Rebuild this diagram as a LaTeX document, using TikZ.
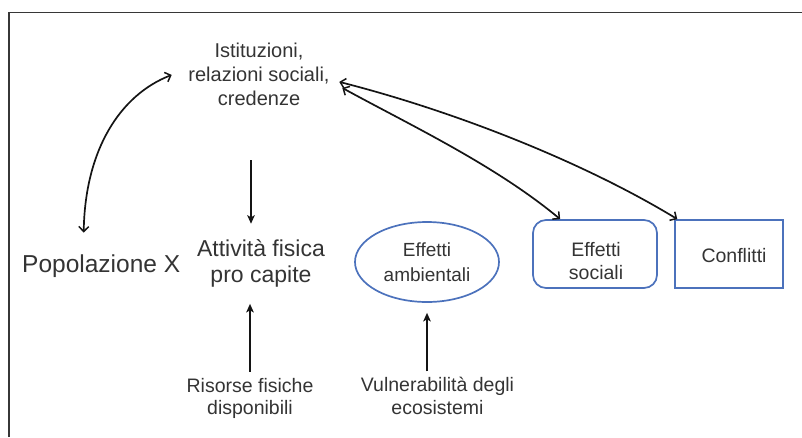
\documentclass[tikz,border=0pt]{standalone}
\usepackage{fontspec}
\setmainfont{Liberation Sans}
\usetikzlibrary{arrows.meta,shapes.geometric}
\definecolor{txtc}{RGB}{52,52,52}
\definecolor{bluec}{RGB}{76,114,188}
\definecolor{framec}{RGB}{55,55,55}
\tikzset{
  lbl/.style={text=txtc, align=center, inner sep=0pt},
  bluebox/.style={draw=bluec, line width=1.7pt, inner sep=0pt},
  conn/.style={line width=1.7pt, draw=black!92},
  dbl/.style={conn, <->, >={Straight Barb[length=5pt,width=10pt,line width=1.5pt]}},
  sgl/.style={conn, ->, >={Stealth[length=8.5pt,width=7.5pt,inset=2pt]}},
}
\begin{document}
\begin{tikzpicture}[x=1pt,y=-1pt]
\useasboundingbox (0,0) rectangle (802,437);
% frame
\draw[framec, line width=1.5pt] (9,437) -- (9,12.7) -- (802,12.7);

% texts
\node[lbl, font=\fontsize{20}{24}\selectfont] (ist) at (259,73.9) {Istituzioni,\\relazioni sociali,\\credenze};
\node[lbl, anchor=base west, font=\fontsize{24.5}{28}\selectfont] (pop) at (22,272) {Popolazione X};
\node[lbl, inner ysep=16pt, font=\fontsize{23}{26}\selectfont] (att) at (261,263.8) {Attività fisica\\pro capite};
\node[lbl, inner ysep=6pt, font=\fontsize{19.5}{22.5}\selectfont] (ris) at (250,398.2) {Risorse fisiche\\disponibili};
\node[lbl, inner ysep=6pt, font=\fontsize{19.5}{22.5}\selectfont] (vul) at (437.5,396) {Vulnerabilità degli\\ecosistemi};

% shapes
\node[bluebox, ellipse, minimum width=144pt, minimum height=80pt, text=txtc, align=center,
      font=\fontsize{19}{25}\selectfont] (ell) at (427,262) {Effetti\\ambientali};
\node[bluebox, rounded corners=13pt, minimum width=124pt, minimum height=68pt] (soc) at (595,254) {};
\node[lbl, font=\fontsize{19.5}{23}\selectfont] (soct) at (596,261.4) {Effetti\\sociali};
\node[bluebox, minimum width=108pt, minimum height=68pt] (conf) at (729,254) {};
\node[lbl, anchor=base, font=\fontsize{19.5}{23}\selectfont] (conft) at (734,262) {Conflitti};

% connectors
\draw[dbl] ([xshift=-17.5pt,yshift=21.5pt]pop.north) .. controls (85,150) and (120,95) .. ([xshift=-16.5pt,yshift=-1pt]ist.west);
\draw[dbl] ([xshift=9.5pt,yshift=-8pt]ist.east) .. controls (450,110) and (580,160) .. (conf.146);
\draw[dbl] ([xshift=12.5pt,yshift=-14pt]ist.east) .. controls (410,125) and (495,165) .. (soc.135);

\coordinate (t1) at (251,160);
\draw[sgl] (t1) -- (t1 |- att.north);
\draw[sgl] (ris.north) -- (ris.north |- att.south);
\draw[sgl] (ell.south |- vul.north) -- ([yshift=-10pt]ell.south);
\end{tikzpicture}
\end{document}
